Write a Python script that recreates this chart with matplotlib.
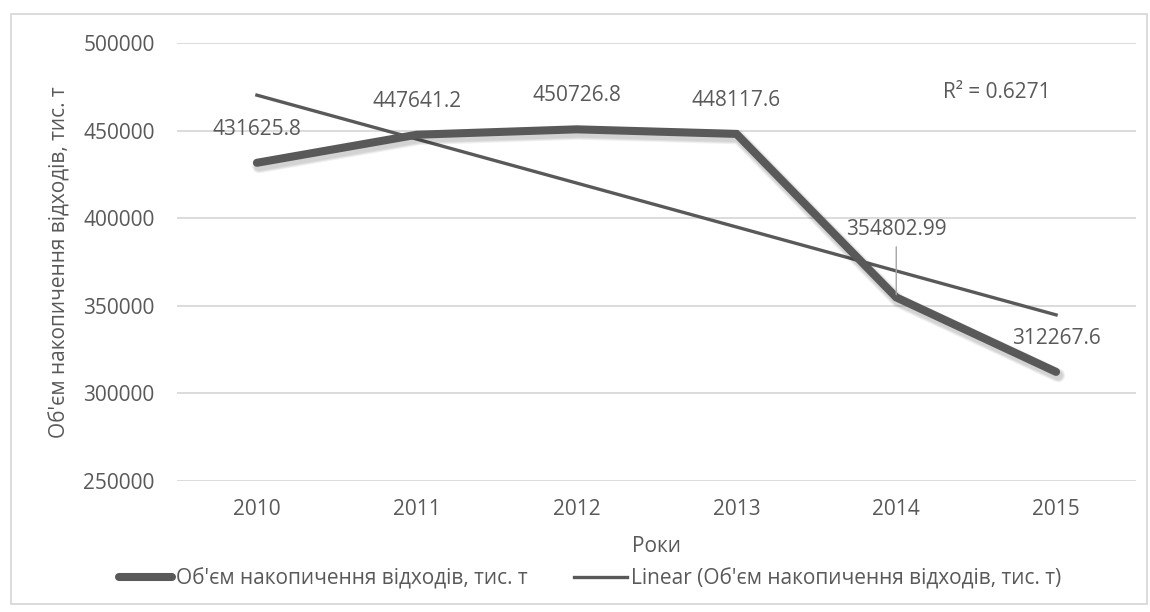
import numpy as np
import matplotlib
matplotlib.use("Agg")
import matplotlib.pyplot as plt
import matplotlib.patheffects as pe
from matplotlib.patches import Rectangle
from matplotlib.lines import Line2D

plt.rcParams["font.family"] = ["Open Sans", "DejaVu Sans"]

# дані
years = ["2010", "2011", "2012", "2013", "2014", "2015"]
waste = [431625.8, 447641.2, 450726.8, 448117.6, 354802.99, 312267.6]
series_name = "Об'єм накопичення відходів, тис. т"
trend_name = "Linear (Об'єм накопичення відходів, тис. т)"
y_ticks = [250000, 300000, 350000, 400000, 450000, 500000]

TEXT = "#595959"
LINE = "#595959"
GRID = "#D9D9D9"
FS = 15

W, H = 1150, 612
fig = plt.figure(figsize=(W / 100, H / 100), dpi=100)
ax = fig.add_axes([177 / W, 1 - 481 / H, (1136 - 177) / W, (481 - 43) / H])

x = np.arange(len(years))
vals = np.array(waste)

# лінійний тренд
coef = np.polyfit(x, vals, 1)
trend = np.polyval(coef, x)
r2 = 1 - np.sum((vals - trend) ** 2) / np.sum((vals - vals.mean()) ** 2)

# тінь під основною лінією (кілька розмитих шарів)
shadow = [pe.SimpleLineShadow(offset=(1.5, -2.5), shadow_color="black", alpha=0.06,
                              linewidth=lw) for lw in (10, 8.5, 7)]
ax.plot(x, vals, color=LINE, lw=5.8, solid_capstyle="round", solid_joinstyle="miter",
        zorder=3, path_effects=shadow + [pe.Normal()])
ax.plot(x, trend, color=LINE, lw=2.4, zorder=2)

# підписи даних
for i, v in enumerate(waste):
    if i == 4:
        ax.annotate(str(v), (x[i], v), xytext=(0, 49), textcoords="offset points",
                    ha="center", va="center", fontsize=FS, color=TEXT, zorder=5,
                    arrowprops=dict(arrowstyle="-", color="#A6A6A6", lw=1,
                                    shrinkA=3, shrinkB=2, relpos=(0.5, 0)))
    else:
        ax.annotate(str(v), (x[i], v), xytext=(0, 24), textcoords="offset points",
                    ha="center", va="center", fontsize=FS, color=TEXT, zorder=5)

ax.text((997 - 177) / 959, (481 - 93) / 438, f"R² = {r2:.4f}", transform=ax.transAxes,
        ha="center", va="center", fontsize=FS, color=TEXT)

ax.set_xlim(-0.5, len(years) - 0.5)
ax.set_ylim(250000, 500000)
ax.set_xticks(x)
ax.set_xticklabels(years)
ax.set_yticks(y_ticks)
ax.set_yticklabels([str(t) for t in y_ticks])
ax.tick_params(length=0, labelsize=FS, labelcolor=TEXT)
ax.tick_params(axis="y", pad=16)
ax.tick_params(axis="x", pad=13)
ax.yaxis.grid(True, color=GRID, lw=1.3)
ax.set_axisbelow(True)
for s in ax.spines.values():
    s.set_visible(False)

fig.text(657 / W, 1 - 547 / H, "Роки", ha="center", va="center", fontsize=FS, color=TEXT)
fig.text(60 / W, 1 - 262 / H, series_name, ha="center", va="center", rotation=90,
         fontsize=FS, color=TEXT)

handles = [Line2D([], [], color=LINE, lw=5.8, solid_capstyle="round"),
           Line2D([], [], color=LINE, lw=2.4)]
fig.legend(handles, [series_name, trend_name], loc="center",
           bbox_to_anchor=(590 / W, 1 - 579 / H), ncol=2, frameon=False,
           handlelength=2.55, handletextpad=0.2, columnspacing=2.2,
           fontsize=FS, labelcolor=TEXT)

fig.patches.append(Rectangle((11 / W, 1 - 604 / H), (1147 - 11) / W, (604 - 14) / H,
                             transform=fig.transFigure, fill=False,
                             edgecolor=GRID, lw=1.3))

fig.savefig("out.png", dpi=100, facecolor="white")
